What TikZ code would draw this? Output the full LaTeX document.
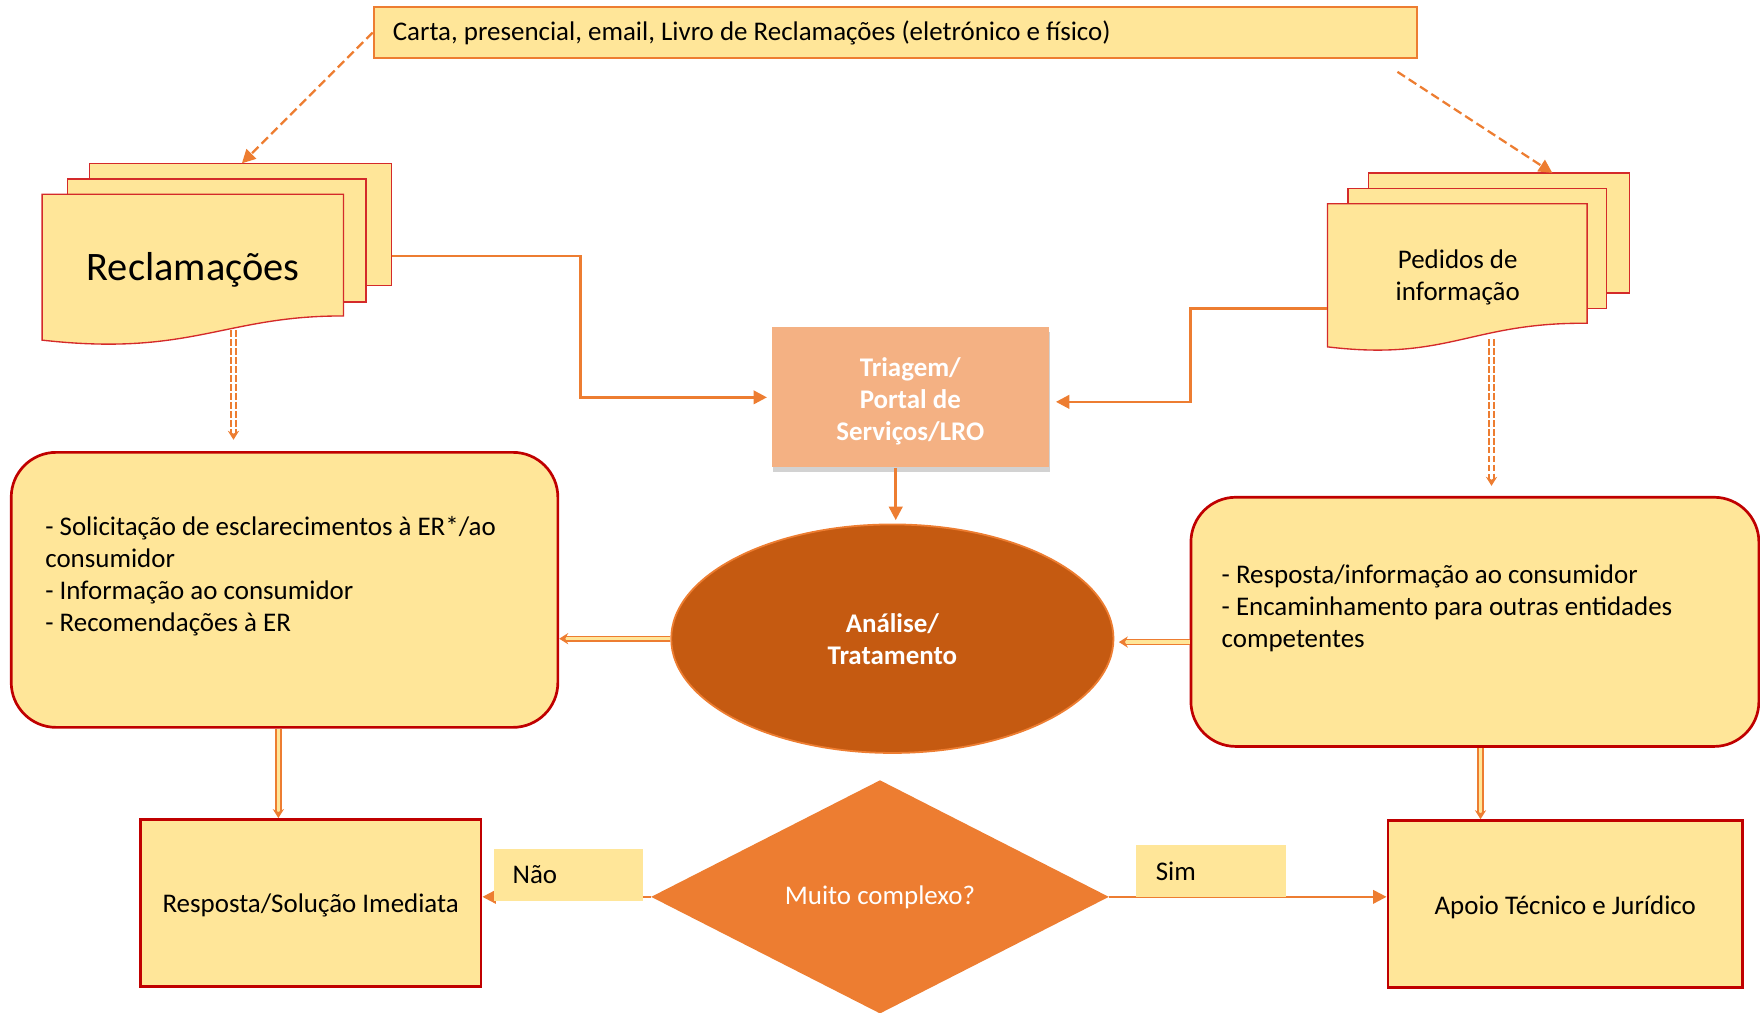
\documentclass[tikz,border=0pt]{standalone}
\usepackage{fontspec}
\setmainfont{Carlito}
\usetikzlibrary{arrows.meta,shapes.geometric,shadows,calc}
\definecolor{ylw}{HTML}{FFE699}
\definecolor{org}{HTML}{ED7D31}
\definecolor{drd}{HTML}{C00000}
\definecolor{docred}{HTML}{D42A2A}
\definecolor{peach}{HTML}{F4B183}
\definecolor{brn}{HTML}{C55A11}
\begin{document}
\begin{tikzpicture}[x=0.5pt,y=-0.5pt,
  txt/.style={font=\fontsize{12}{14.25}\selectfont},
  sheet/.style={fill=ylw, draw=docred, line width=0.6pt},
  conn/.style={draw=org, line width=1.2pt, -{Triangle[length=6pt,width=6pt]}},
  dconn/.style={draw=org, line width=1pt, dash pattern=on 4pt off 2pt, -{Triangle[length=6pt,width=6pt]}},
  dbl/.style={draw=org, line width=0.6pt, double=ylw, double distance=1.6pt, -{Stealth[length=4pt,width=5pt]}},
  dbldash/.style={dbl, double=white, dash pattern=on 3pt off 1pt},
  outbox/.style={rectangle, draw=drd, line width=1.2pt, fill=ylw, inner sep=0pt, txt},
  roundbox/.style={outbox, rounded corners=20pt},
  lbl/.style={rectangle, fill=ylw, inner sep=0pt, txt},
  wbold/.style={text=white, font=\bfseries\fontsize{12}{14.25}\selectfont, align=center}
]
\useasboundingbox (0,0) rectangle (1568,902);

% top box
\node[rectangle, draw=org, line width=0.9pt, fill=ylw, minimum width=464.5pt, minimum height=22.5pt,
      text width=447.5pt, inner xsep=8.5pt, inner ysep=0pt, align=flush left, txt] (canais) at (797.5,29)
      {Carta, presencial, email, Livro de Reclamações (eletrónico e físico)};

% Reclamacoes document stack
\draw[sheet] (80,145.5) rectangle (349,254.5);
\draw[sheet] (60,159.5) rectangle (326,269);
\draw[sheet] (37.5,173) -- (306,173) -- (306,281.5) .. controls (200,281) and (170,318) .. (37.5,303) -- cycle;
\node[font=\fontsize{18}{22}\selectfont, anchor=base, inner sep=0pt] (recl) at (172,250) {Reclamações};
\coordinate (reclR) at (349,228);
\coordinate (reclT) at (215.5,145.5);
\coordinate (reclB) at (208,294);

% Pedidos document stack
\draw[sheet] (1219,154) rectangle (1451.6,261);
\draw[sheet] (1201,168) rectangle (1431,275);
\draw[sheet] (1182.6,181.5) -- (1414,181.5) -- (1414,288) .. controls (1310,287) and (1290,322) .. (1182.6,309) -- cycle;
\node[txt, align=center] (pedidos) at (1298.7,247) {Pedidos de\\informação};
\coordinate (pedL) at (1182.6,274.7);
\coordinate (pedT) at (1383,154);
\coordinate (pedB) at (1328.8,302);
\coordinate (canaisR) at (1245,64);

% Triagem
\node[rectangle, fill=peach, minimum width=123.3pt, minimum height=62.4pt, inner sep=0pt,
      drop shadow={shadow xshift=0.6pt, shadow yshift=-2.2pt, opacity=0.25, fill=black!70}] (triagem) at (811,354) {};
\node[wbold] (triagemtxt) at (811,357.5) {Triagem/\\Portal de\\Serviços/LRO};

% Analise ellipse
\node[ellipse, fill=brn, draw=org, line width=0.8pt, minimum width=197pt, minimum height=101.8pt, inner sep=0pt,
      wbold] (analise) at (795,569) {Análise/\\Tratamento};

% left rounded box
\node[roundbox, minimum width=243.5pt, minimum height=122.5pt] (solic) at (253.5,525.5) {};
\node[txt, anchor=north west, inner sep=0pt, align=left] (solictxt) at (40,460)
  {- Solicitação de esclarecimentos à ER*/ao\\consumidor\\- Informação ao consumidor\\- Recomendações à ER};

% right rounded box
\node[roundbox, minimum width=253pt, minimum height=111pt] (resp) at (1314,554) {};
\node[txt, anchor=north west, inner sep=0pt, align=left] (resptxt) at (1088,503)
  {- Resposta/informação ao consumidor\\- Encaminhamento para outras entidades\\competentes};

% bottom boxes
\node[outbox, minimum width=151.8pt, minimum height=74.5pt] (respim) at (276.8,804.5) {};
\node[txt] (respimtxt) at (276.8,807) {Resposta/Solução Imediata};
\node[outbox, minimum width=158pt, minimum height=74.5pt] (apoio) at (1394.5,805.5) {};
\node[txt] (apoiotxt) at (1394.5,808.5) {Apoio Técnico e Jurídico};

% diamond
\node[diamond, fill=org, minimum width=204pt, minimum height=104pt, inner sep=0pt, text=white, txt] (muito) at (784,799) {Muito complexo?};

% connectors
\draw[dconn] (canais.west) -- (reclT);
\draw[dconn] (canaisR) -- (pedT);
\draw[conn, shorten >=2pt] (reclR) -- ++(168,0) |- (triagem.west);
\draw[conn, shorten >=3pt] (pedL) -- ++(-121.8,0) |- ([yshift=-2pt]triagem.east);
\draw[conn, shorten >=1.5pt] ([xshift=-6.5pt]triagem.south) -- ([xshift=-6.5pt]triagem.south |- analise.north);

\draw[dbl] (analise.west) -- (analise.west -| solic.east);
\draw[dbl, shorten >=2pt] ([yshift=-1.5pt]analise.east -| resp.west) -- ([yshift=-1.5pt]analise.east);
\draw[dbl] ([xshift=-14.4pt]respim.north |- solic.south) -- ([xshift=-14.4pt]respim.north);
\draw[dbl] ([xshift=-37.75pt]apoio.north |- resp.south) -- ([xshift=-37.75pt]apoio.north);
\draw[dbldash, shorten >=5pt] (reclB) -- (reclB |- solic.north);
\draw[dbldash, shorten >=4.5pt] (pedB) -- (pedB |- resp.north);

\draw[conn, line width=1pt] (muito.west) -- (muito.west -| respim.east);
\draw[conn, line width=1pt] (muito.east) -- (muito.east -| apoio.west);

% labels
\node[lbl, minimum width=66.5pt, minimum height=23pt, inner xsep=8.35pt, text width=49.8pt, align=flush left] (nao) at (506.5,779.5) {Não};
\node[lbl, minimum width=66.75pt, minimum height=23pt, inner xsep=8.75pt, text width=49.25pt, align=flush left] (sim) at (1079,776) {Sim};
\end{tikzpicture}
\end{document}
